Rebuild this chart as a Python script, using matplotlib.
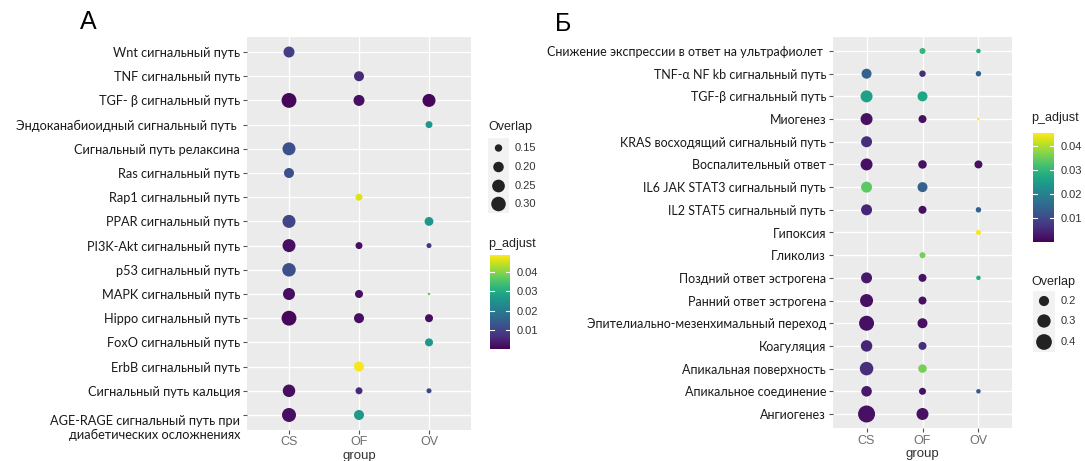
import numpy as np
import matplotlib
matplotlib.use("Agg")
import matplotlib.pyplot as plt
from matplotlib.colors import Normalize
from matplotlib.colorbar import ColorbarBase

# ---- data: panel A (KEGG pathways) ----
groups = ["CS", "OF", "OV"]
nan = np.nan

pathways_a = [
    "Wnt сигнальный путь",
    "TNF сигнальный путь",
    "TGF- β сигнальный путь",
    "Эндоканабиоидный сигнальный путь ",
    "Сигнальный путь релаксина",
    "Ras сигнальный путь",
    "Rap1 сигнальный путь",
    "PPAR сигнальный путь",
    "PI3K-Akt сигнальный путь",
    "p53 сигнальный путь",
    "MAPK сигнальный путь",
    "Hippo сигнальный путь",
    "FoxO сигнальный путь",
    "ErbB сигнальный путь",
    "Сигнальный путь кальция",
    "AGE-RAGE сигнальный путь при\nдиабетических осложнениях",
]
overlap_a_cs = [0.21, nan, 0.31, nan, 0.257, 0.19, nan, 0.257, 0.257, 0.27, 0.232, 0.31, nan, nan, 0.244, 0.284]
overlap_a_of = [nan, 0.19, 0.21, nan, nan, nan, 0.145, nan, 0.145, nan, 0.158, 0.19, nan, 0.19, 0.145, 0.19]
overlap_a_ov = [nan, nan, 0.257, 0.145, nan, nan, nan, 0.17, 0.128, nan, 0.12, 0.158, 0.158, nan, 0.128, nan]
padj_a_cs = [0.009, nan, 0.001, nan, 0.012, 0.012, nan, 0.010, 0.002, 0.012, 0.002, 0.001, nan, nan, 0.002, 0.002]
padj_a_of = [nan, 0.006, 0.002, nan, nan, nan, 0.046, nan, 0.002, nan, 0.002, 0.002, nan, 0.048, 0.006, 0.026]
padj_a_ov = [nan, nan, 0.001, 0.026, nan, nan, nan, 0.026, 0.008, nan, 0.036, 0.002, 0.026, nan, 0.010, nan]

# ---- data: panel Б (Hallmark gene sets) ----
pathways_b = [
    "Снижение экспрессии в ответ на ультрафиолет ",
    "TNF-α NF kb сигнальный путь",
    "TGF-β сигнальный путь",
    "Миогенез",
    "KRAS восходящий сигнальный путь",
    "Воспалительный ответ",
    "IL6 JAK STAT3 сигнальный путь",
    "IL2 STAT5 сигнальный путь",
    "Гипоксия",
    "Гликолиз",
    "Поздний ответ эстрогена",
    "Ранний ответ эстрогена",
    "Эпителиально-мезенхимальный переход",
    "Коагуляция",
    "Апикальная поверхность",
    "Апикальное соединение",
    "Ангиогенез",
]
overlap_b_cs = [nan, 0.196, 0.254, 0.254, 0.224, 0.254, 0.224, 0.224, nan, nan, 0.224, 0.289, 0.367, 0.238, 0.308, 0.211, 0.46]
overlap_b_of = [0.121, 0.127, 0.196, 0.152, nan, 0.162, 0.196, 0.152, nan, 0.121, 0.152, 0.152, 0.196, 0.152, 0.162, 0.135, 0.254]
overlap_b_ov = [0.107, 0.115, nan, 0.100, nan, 0.152, nan, 0.115, 0.111, nan, 0.107, nan, nan, nan, nan, 0.107, nan]
padj_b_cs = [nan, 0.014, 0.026, 0.002, 0.006, 0.002, 0.034, 0.005, nan, nan, 0.003, 0.002, 0.002, 0.005, 0.006, 0.003, 0.002]
padj_b_of = [0.030, 0.006, 0.027, 0.002, nan, 0.002, 0.014, 0.002, nan, 0.036, 0.002, 0.002, 0.002, 0.006, 0.036, 0.002, 0.002]
padj_b_ov = [0.028, 0.014, nan, 0.045, nan, 0.002, nan, 0.014, 0.045, nan, 0.028, nan, nan, nan, nan, 0.013, nan]

size_breaks_a = [0.15, 0.20, 0.25, 0.30]
size_labels_a = ["0.15", "0.20", "0.25", "0.30"]
size_breaks_b = [0.2, 0.3, 0.4]
size_labels_b = ["0.2", "0.3", "0.4"]
cbar_ticks = [0.01, 0.02, 0.03, 0.04]

# ---- figure setup (pixel helpers) ----
W, H = 1085, 461
fig = plt.figure(figsize=(W / 100, H / 100), dpi=100)
fig.patch.set_facecolor("white")
FONT = ["Lato", "DejaVu Sans"]
SANS = ["Liberation Sans", "DejaVu Sans"]


def box(x0, y0, x1, y1):
    # pixel box (top-left origin) -> figure fraction rect
    return [x0 / W, 1 - y1 / H, (x1 - x0) / W, (y1 - y0) / H]


def fx(x):
    return x / W


def fy(y):
    return 1 - y / H


def size_scale(v, vmin, vmax, dmin, dmax):
    # ggplot-like area scale: diameter grows with sqrt of value
    v = np.asarray(v, dtype=float)
    t = np.clip((v - vmin) / (vmax - vmin), 0, 1)
    d = dmin + (dmax - dmin) * np.sqrt(t)
    return (d * 0.72) ** 2  # px diameter -> points^2


def dot_panel(rect, labels, overlaps, padjs, norm, sscale, label_size):
    ax = fig.add_axes(rect)
    ax.set_facecolor("#EBEBEB")
    n = len(labels)
    y = np.arange(n)
    for gi, (ov, pa) in enumerate(zip(overlaps, padjs)):
        ov = np.array(ov, dtype=float)
        pa = np.array(pa, dtype=float)
        m = ~np.isnan(ov)
        ax.scatter(np.full(m.sum(), gi), y[m], s=sscale(ov[m]), c=pa[m],
                   cmap="viridis", norm=norm, linewidths=0, zorder=3)
    ax.set_xlim(-0.6, len(groups) - 1 + 0.6)
    ax.set_ylim(n - 1 + 0.6, -0.6)
    ax.set_xticks(range(len(groups)))
    ax.set_xticklabels(groups, color="#6E6E6E", fontsize=9, family=SANS)
    ax.set_yticks(y)
    ax.set_yticklabels(labels, fontsize=label_size, family=FONT, color="#1A1A1A",
                       linespacing=1.2)
    ax.grid(True, color="white", linewidth=1.0)
    ax.set_axisbelow(True)
    for s in ax.spines.values():
        s.set_visible(False)
    ax.tick_params(length=3, width=0.8, color="#555555", pad=2)
    ax.set_xlabel("group", fontsize=9.5, family=SANS, color="#333333", labelpad=1)
    return ax


def size_legend(x_title, y_title, key_box, breaks, labels, ys, sscale):
    fig.text(fx(x_title), fy(y_title), "Overlap", fontsize=9, family=SANS,
             color="#222222", va="center", ha="left")
    kx0, ky0, kx1, ky1 = key_box
    lax = fig.add_axes(box(kx0, ky0, kx1, ky1))
    lax.set_facecolor("#F2F2F2")
    lax.set_xlim(kx0, kx1)
    lax.set_ylim(ky1, ky0)
    lax.scatter(np.full(len(breaks), (kx0 + kx1) / 2), ys, s=sscale(breaks),
                color="#222222", linewidths=0)
    lax.set_xticks([])
    lax.set_yticks([])
    for s in lax.spines.values():
        s.set_visible(False)
    for lab, yy in zip(labels, ys):
        fig.text(fx(kx1 + 6), fy(yy), lab, fontsize=8, family=SANS,
                 color="#333333", va="center")


def color_legend(x_title, y_title, bar_box, norm):
    fig.text(fx(x_title), fy(y_title), "p_adjust", fontsize=9, family=SANS,
             color="#222222", va="center", ha="left")
    cax = fig.add_axes(box(*bar_box))
    cb = ColorbarBase(cax, cmap=plt.get_cmap("viridis"), norm=norm, orientation="vertical")
    cb.outline.set_visible(False)
    cb.set_ticks(cbar_ticks)
    cb.set_ticklabels([f"{t:.2f}" for t in cbar_ticks])
    cax.tick_params(length=0, labelsize=8, pad=5, labelcolor="#333333")
    for lab in cax.get_yticklabels():
        lab.set_family(SANS)
    tr = cax.get_yaxis_transform()
    for t in cbar_ticks:
        cax.plot([0, 0.2], [t, t], color="white", lw=0.8, transform=tr)
        cax.plot([0.8, 1.0], [t, t], color="white", lw=0.8, transform=tr)


# ---- panel A ----
norm_a = Normalize(vmin=0.0002, vmax=0.0486)
scale_a = lambda v: size_scale(v, 0.12, 0.33, 2.5, 15.5)
ax_a = dot_panel(box(247, 37.5, 471, 429.5), pathways_a,
                 [overlap_a_cs, overlap_a_of, overlap_a_ov],
                 [padj_a_cs, padj_a_of, padj_a_ov], norm_a, scale_a, 9.2)
# the two-line label hangs below its tick
ax_a.get_yticklabels()[-1].set_verticalalignment("top")

size_legend(488, 127, (488, 138, 509, 213), size_breaks_a, size_labels_a,
            [148, 167, 186, 204], scale_a)
color_legend(488, 244, (490, 255, 510, 349), norm_a)

# ---- panel Б ----
norm_b = Normalize(vmin=0.0001, vmax=0.0455)
scale_b = lambda v: size_scale(v, 0.10, 0.46, 2.5, 17)
ax_b = dot_panel(box(833, 37.4, 1012, 427.6), pathways_b,
                 [overlap_b_cs, overlap_b_of, overlap_b_ov],
                 [padj_b_cs, padj_b_of, padj_b_ov], norm_b, scale_b, 9.0)

color_legend(1031, 118, (1033, 133, 1054, 242), norm_b)
size_legend(1031, 282, (1033, 291, 1055, 352), size_breaks_b, size_labels_b,
            [301, 321, 342], scale_b)

# panel letters
fig.text(fx(88), fy(22), "А", fontsize=18, family=SANS, ha="center", va="center")
fig.text(fx(563), fy(24), "Б", fontsize=18, family=SANS, ha="center", va="center")

fig.savefig("out.png", dpi=100)
